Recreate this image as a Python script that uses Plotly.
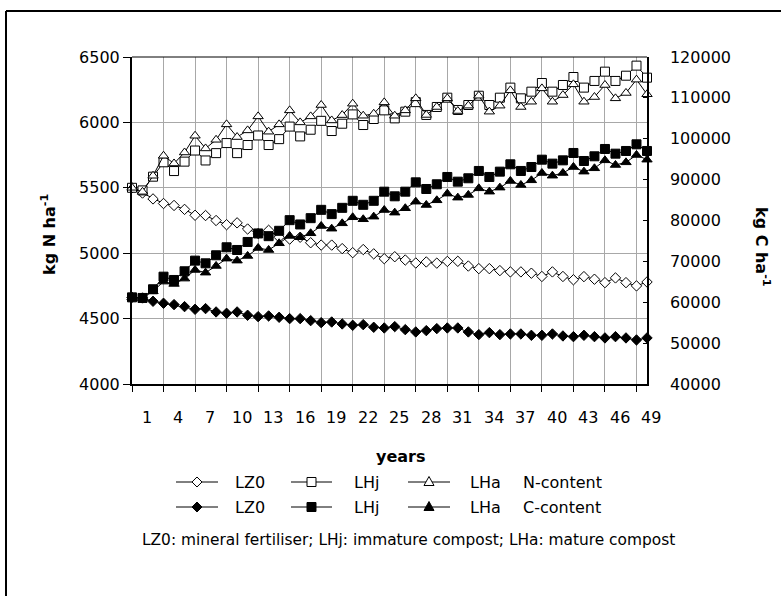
import plotly.graph_objects as go

# ---------------- data ----------------
years = list(range(50))  # point index along the category axis
tick_labels = ["1", "4", "7", "10", "13", "16", "19", "22", "25", "28", "31",
               "34", "37", "40", "43", "46", "49"]

# N-content (kg N / ha), left axis
LZ0_N = [5500, 5460, 5415, 5380, 5365, 5335, 5290, 5288, 5250, 5218,
         5232, 5185, 5150, 5175, 5122, 5108, 5122, 5080, 5062, 5062,
         5035, 5004, 5028, 4995, 4958, 4973, 4948, 4925, 4933, 4924,
         4937, 4938, 4902, 4882, 4882, 4867, 4857, 4857, 4847, 4822,
         4857, 4822, 4797, 4821, 4801, 4775, 4811, 4775, 4750, 4780]
LHj_N = [5500, 5480, 5585, 5695, 5628, 5700, 5785, 5709, 5765, 5842,
         5765, 5827, 5900, 5827, 5872, 5968, 5893, 5944, 6012, 5934,
         5990, 6061, 5980, 6026, 6092, 6031, 6082, 6155, 6057, 6118,
         6189, 6095, 6133, 6204, 6133, 6189, 6266, 6184, 6235, 6301,
         6235, 6286, 6347, 6266, 6317, 6388, 6317, 6357, 6434, 6342]
LHa_N = [5500, 5469, 5592, 5745, 5686, 5770, 5898, 5801, 5867, 5985,
         5888, 5939, 6046, 5929, 5985, 6092, 6000, 6046, 6133, 6015,
         6056, 6143, 6051, 6066, 6153, 6051, 6092, 6184, 6057, 6118,
         6184, 6087, 6128, 6204, 6082, 6128, 6245, 6118, 6158, 6260,
         6158, 6209, 6291, 6158, 6194, 6286, 6184, 6225, 6327, 6215]

# C-content (kg C / ha), right axis
LZ0_C = [61200, 61050, 60240, 59750, 59420, 58930, 58280, 58450, 57630, 57300,
         57630, 56820, 56480, 56650, 56320, 55990, 55990, 55500, 55010, 55170,
         54690, 54360, 54520, 53880, 53710, 54040, 53300, 52740, 53060, 53550,
         53710, 53710, 52740, 52080, 52570, 52080, 52240, 52240, 51910, 51910,
         52240, 51750, 51590, 51910, 51590, 51270, 51590, 51270, 50780, 51270]
LHj_C = [61200, 61050, 63180, 66260, 65450, 67580, 70180, 69530, 71490, 73450,
         72790, 74750, 76830, 76170, 77480, 80080, 79030, 80570, 82610, 81560,
         83100, 84820, 83840, 84820, 87050, 85920, 87050, 89340, 87710, 88860,
         90650, 89500, 90330, 92120, 90650, 91950, 93750, 92120, 93090, 94880,
         93910, 94720, 96520, 94560, 95710, 97500, 96350, 97010, 98640, 97010]
LHa_C = [61200, 61000, 62700, 65050, 64480, 65780, 67900, 67240, 68880, 70670,
         70180, 71330, 73280, 72790, 74430, 76220, 75900, 76870, 78660, 78000,
         79310, 80790, 80300, 80940, 82570, 81920, 83000, 84610, 83800, 84940,
         86570, 85590, 86250, 87870, 87050, 88040, 89670, 88690, 89830, 91620,
         90960, 91620, 93090, 91950, 92770, 94720, 93580, 94230, 96030, 94880]

# ---------------- layout geometry ----------------
W, H = 781, 596
L, R, T, B = 132, 134, 57, 212
PW, PH = W - L - R, H - T - B
FONT = "DejaVu Sans"
GRID = "#a8a8a8"
X_MAX = years[-1]


def px(x):
    return (x - L) / PW


def py(y):
    return (H - B - y) / PH


fig = go.Figure()

line = dict(color="black", width=1)
series = [
    (LZ0_N, "diamond", "white", 8, "y"),
    (LHj_N, "square", "white", 9, "y"),
    (LHa_N, "triangle-up", "white", 9, "y"),
    (LZ0_C, "diamond", "black", 8, "y2"),
    (LHj_C, "square", "black", 9, "y2"),
    (LHa_C, "triangle-up", "black", 9, "y2"),
]
for vals, sym, fill, size, ya in series:
    fig.add_trace(go.Scatter(
        x=years, y=vals, mode="lines+markers", line=line,
        marker=dict(symbol=sym, color=fill, size=size,
                    line=dict(color="black", width=1)),
        xaxis="x", yaxis=ya, cliponaxis=False, showlegend=False,
        hoverinfo="skip"))

fig.update_layout(
    width=W, height=H,
    margin=dict(l=L, r=R, t=T, b=B, pad=0),
    paper_bgcolor="white", plot_bgcolor="white",
    font=dict(family=FONT, size=16, color="black"),
    showlegend=False,
    xaxis=dict(range=[0, X_MAX], tickvals=list(range(0, X_MAX, 3)),
               showticklabels=False, showgrid=True, gridcolor=GRID,
               gridwidth=1, ticks="outside", ticklen=6, tickcolor="black",
               tickwidth=1, showline=True, linecolor="black", linewidth=2,
               zeroline=False, automargin=False),
    yaxis=dict(range=[4000, 6500], tick0=4000, dtick=500, tickformat="d",
               showgrid=True, gridcolor=GRID, gridwidth=1, ticks="outside",
               ticklen=7, tickcolor="black", showline=True, linecolor="black",
               linewidth=2, zeroline=False, tickfont=dict(family=FONT, size=16),
               automargin=False),
    yaxis2=dict(range=[40000, 120000], tick0=40000, dtick=10000,
                tickformat="d", overlaying="y", side="right", anchor="x",
                showgrid=False, ticks="inside", ticklen=4, tickcolor="black",
                showline=True, linecolor="black", linewidth=1.5,
                zeroline=False, tickfont=dict(family=FONT, size=16),
                ticklabelstandoff=18, automargin=False),
)

shapes = []
# outer frame (left and top edges visible)
shapes.append(dict(type="line", xref="paper", yref="paper",
                   x0=px(6), x1=px(W + 5), y0=py(11), y1=py(11),
                   line=dict(color="black", width=2)))
shapes.append(dict(type="line", xref="paper", yref="paper",
                   x0=px(6), x1=px(6), y0=py(11), y1=py(H + 5),
                   line=dict(color="black", width=2)))
# top edge of plot area
shapes.append(dict(type="line", xref="paper", yref="paper",
                   x0=0, x1=1, y0=1, y1=1, line=dict(color="black", width=1)))

annotations = []
# category labels, offset from the tick marks as in the original
for t in tick_labels:
    annotations.append(dict(text=t, xref="paper", yref="paper",
                            x=(int(t) + 0.42) / X_MAX, y=py(417),
                            showarrow=False, xanchor="center",
                            yanchor="middle",
                            font=dict(family=FONT, size=16)))

annotations.append(dict(text="<b>kg N ha<sup>-1</sup></b>", xref="paper",
                        yref="paper", x=px(48), y=py(235), textangle=-90,
                        showarrow=False, xanchor="center", yanchor="middle",
                        font=dict(family=FONT, size=16)))
annotations.append(dict(text="<b>kg C ha<sup>-1</sup></b>", xref="paper",
                        yref="paper", x=px(763), y=py(247), textangle=90,
                        showarrow=False, xanchor="center", yanchor="middle",
                        font=dict(family=FONT, size=16)))
annotations.append(dict(text="<b>years</b>", xref="paper", yref="paper",
                        x=px(401), y=py(456), showarrow=False,
                        xanchor="center", yanchor="middle",
                        font=dict(family=FONT, size=16)))

# manual legend
leg_names = ["LZ0", "LHj", "LHa"]
leg_syms = ["diamond", "square", "triangle"]
line_x = [(176, 218), (291, 332), (408, 450)]
text_x = [233, 352, 468]
rows = [(482, "white", "N-content"), (507, "black", "C-content")]


def marker_path(sym, cx, cy):
    if sym == "diamond":
        pts = [(cx, cy - 5), (cx + 5, cy), (cx, cy + 5), (cx - 5, cy)]
    elif sym == "square":
        pts = [(cx - 4.5, cy - 4.5), (cx + 4.5, cy - 4.5),
               (cx + 4.5, cy + 4.5), (cx - 4.5, cy + 4.5)]
    else:
        pts = [(cx, cy - 5.5), (cx + 5, cy + 3.5), (cx - 5, cy + 3.5)]
    d = "M " + " L ".join(f"{px(a):.5f},{py(b):.5f}" for a, b in pts) + " Z"
    return d


for ry, fill, label in rows:
    for k in range(3):
        x0, x1 = line_x[k]
        shapes.append(dict(type="line", xref="paper", yref="paper",
                           x0=px(x0), x1=px(x1), y0=py(ry), y1=py(ry),
                           line=dict(color="black", width=1)))
        shapes.append(dict(type="path", xref="paper", yref="paper",
                           path=marker_path(leg_syms[k], (x0 + x1) / 2, ry),
                           fillcolor=fill, line=dict(color="black", width=1)))
        annotations.append(dict(text=leg_names[k], xref="paper", yref="paper",
                                x=px(text_x[k]), y=py(ry), showarrow=False,
                                xanchor="left", yanchor="middle",
                                font=dict(family=FONT, size=16)))
    annotations.append(dict(text=label, xref="paper", yref="paper",
                            x=px(521), y=py(ry), showarrow=False,
                            xanchor="left", yanchor="middle",
                            font=dict(family=FONT, size=16)))

annotations.append(dict(
    text="LZ0: mineral fertiliser; LHj: immature compost; LHa: mature compost",
    xref="paper", yref="paper", x=px(408), y=py(540), showarrow=False,
    xanchor="center", yanchor="middle", font=dict(family=FONT, size=15.4)))

fig.update_layout(shapes=shapes, annotations=annotations)
fig.write_html(
    "out.html",
    config={"displayModeBar": False},
    post_script="document.body.style.margin='0';"
                "document.body.style.overflow='hidden';")
